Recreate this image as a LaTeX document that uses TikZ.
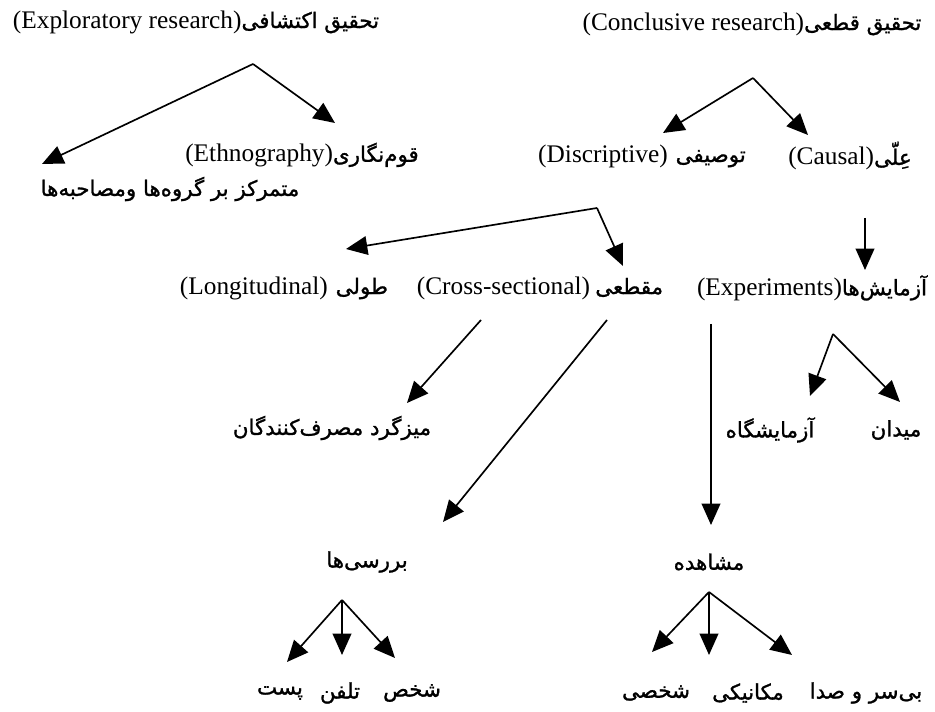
\documentclass[tikz,border=0pt]{standalone}
\usepackage{fontspec}
\setmainfont{Liberation Serif}
\newfontfamily\fafont[Script=Arabic,FakeBold=1.2]{DejaVu Sans}
\TeXXeTstate=1
\usetikzlibrary{arrows.meta}
\newcommand\FA[1]{{\fafont\fontsize{16}{18}\selectfont\beginR #1\endR}}
\begin{document}
\begin{tikzpicture}[x=0.75pt,y=-0.75pt,
  lbl/.style={inner sep=0pt,font=\fontsize{19}{21}\selectfont},
  arr/.style={line width=1.25pt,-{Triangle[length=16pt,width=14pt]}}]
\useasboundingbox (0,0) rectangle (935,712);
% labels
\node[lbl] (expl) at (196,22) {(Exploratory research)\FA{تحقیق اکتشافی}};
\node[lbl] (concl) at (752,24) {(Conclusive research)\FA{تحقیق قطعی}};
\node[lbl] (ethno) at (302,155) {(Ethnography)\FA{قوم‌نگاری}};
\node[lbl] (focus) at (170,189) {\FA{متمرکز بر گروه‌ها ومصاحبه‌ها}};
\node[lbl] (desc) at (642,156) {(Discriptive)\hspace{6pt}\FA{توصیفی}};
\node[lbl] (causal) at (850,156) {(Causal)\FA{عِلّی}};
\node[lbl] (long) at (284,288) {(Longitudinal)\hspace{6pt}\FA{طولی}};
\node[lbl] (cross) at (540,288) {(Cross-sectional)\hspace{4pt}\FA{مقطعی}};
\node[lbl] (exper) at (812,288) {(Experiments)\FA{آزمایش‌ها}};
\node[lbl] (panel) at (332,428) {\FA{میزگرد مصرف‌کنندگان}};
\node[lbl] (lab) at (770,430) {\FA{آزمایشگاه}};
\node[lbl] (field) at (896,430) {\FA{میدان}};
\node[lbl] (surv) at (367,562) {\FA{بررسی‌ها}};
\node[lbl] (obs) at (709,562) {\FA{مشاهده}};
\node[lbl] (mail) at (280,693) {\FA{پست}};
\node[lbl] (tel) at (340,693) {\FA{تلفن}};
\node[lbl] (pers) at (412,693) {\FA{شخص}};
\node[lbl] (opers) at (656,693) {\FA{شخصی}};
\node[lbl] (omech) at (748,693) {\FA{مکانیکی}};
\node[lbl] (ounob) at (866,693) {\FA{بی‌سر و صدا}};
% connector points
\coordinate (eA) at (253,64);
\coordinate (eF) at (42,164);
\coordinate (eE) at (335,123);
\coordinate (cA) at (753,78);
\coordinate (cD) at (663,133);
\coordinate (cC) at (808,135);
\coordinate (dA) at (597,208);
\coordinate (dL) at (346,249);
\coordinate (dX) at (623,266);
\coordinate (kS) at (865,218);
\coordinate (kE) at (865,270);
\coordinate (xS1) at (481,320);
\coordinate (xP) at (407,403);
\coordinate (xS2) at (607,320);
\coordinate (xV) at (443,522);
\coordinate (pS) at (711,324);
\coordinate (pO) at (711,525);
\coordinate (pA) at (833,334);
\coordinate (pL) at (810,396);
\coordinate (pF) at (900,402);
\coordinate (sA) at (342,600);
\coordinate (s1) at (287,662);
\coordinate (s2) at (342,655);
\coordinate (s3) at (395,658);
\coordinate (oA) at (709,592);
\coordinate (o1) at (652,652);
\coordinate (o2) at (709,655);
\coordinate (o3) at (792,655);
% connectors
\draw[arr] (eA) -- (eF);
\draw[arr] (eA) -- (eE);
\draw[arr] (cA) -- (cD);
\draw[arr] (cA) -- (cC);
\draw[arr] (dA) -- (dL);
\draw[arr] (dA) -- (dX);
\draw[arr] (kS) -- (kE);
\draw[arr] (xS1) -- (xP);
\draw[arr] (xS2) -- (xV);
\draw[arr] (pS) -- (pO);
\draw[arr] (pA) -- (pL);
\draw[arr] (pA) -- (pF);
\draw[arr] (sA) -- (s1);
\draw[arr] (sA) -- (s2);
\draw[arr] (sA) -- (s3);
\draw[arr] (oA) -- (o1);
\draw[arr] (oA) -- (o2);
\draw[arr] (oA) -- (o3);
\end{tikzpicture}
\end{document}
